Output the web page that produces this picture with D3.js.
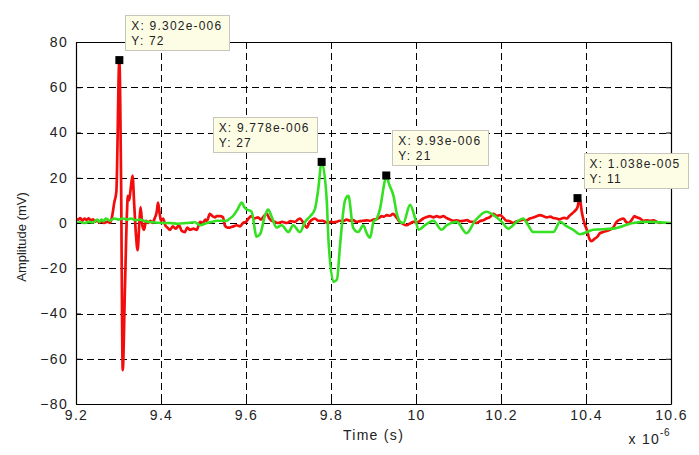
<!DOCTYPE html>
<html>
<head>
<meta charset="utf-8">
<script src="https://cdn.jsdelivr.net/npm/d3@7"></script>
<style>
  html, body { margin: 0; padding: 0; background: #fff; }
  svg { display: block; }
  .tick text { font-family: "Liberation Sans", Arial, sans-serif; font-size: 14px; letter-spacing: 1.3px; fill: #222; }
</style>
</head>
<body>
<svg id="chart" width="699" height="455"></svg>
<script>
// ---- data (time in microseconds, amplitude in mV) ----
const redT = [9.200,9.205,9.210,9.215,9.220,9.225,9.230,9.235,9.240,9.245,9.250,9.255,9.260,9.265,9.270,9.275,9.280,9.285,9.290,9.295,9.302,9.306,9.310,9.315,9.320,9.322,9.325,9.328,9.333,9.337,9.341,9.345,9.349,9.352,9.356,9.360,9.365,9.370,9.375,9.380,9.385,9.390,9.393,9.397,9.400,9.405,9.410,9.415,9.421,9.428,9.435,9.442,9.449,9.456,9.462,9.468,9.476,9.484,9.492,9.499,9.504,9.508,9.515,9.521,9.527,9.531,9.539,9.546,9.550,9.556,9.562,9.570,9.578,9.586,9.593,9.600,9.606,9.613,9.620,9.628,9.635,9.642,9.649,9.655,9.660,9.668,9.675,9.685,9.696,9.705,9.715,9.722,9.727,9.735,9.743,9.750,9.756,9.762,9.770,9.781,9.787,9.793,9.800,9.806,9.813,9.820,9.828,9.837,9.845,9.852,9.860,9.868,9.876,9.884,9.892,9.900,9.908,9.915,9.919,9.925,9.931,9.939,9.946,9.954,9.962,9.970,9.978,9.986,9.994,10.002,10.010,10.017,10.025,10.033,10.041,10.049,10.056,10.064,10.072,10.080,10.088,10.096,10.104,10.112,10.120,10.127,10.135,10.143,10.150,10.158,10.166,10.174,10.182,10.190,10.198,10.206,10.213,10.221,10.228,10.236,10.244,10.252,10.260,10.268,10.276,10.284,10.292,10.300,10.308,10.316,10.323,10.331,10.338,10.343,10.349,10.355,10.360,10.366,10.372,10.380,10.385,10.390,10.396,10.402,10.408,10.413,10.420,10.427,10.433,10.440,10.448,10.456,10.464,10.472,10.480,10.488,10.494,10.500,10.508,10.514,10.519,10.527,10.535,10.543,10.551,10.559,10.566,10.574,10.582,10.590];
const redV = [2,1.5,2.2,1,2,1.4,2.1,1,1.6,0.6,1.2,0.2,0.7,0,0.3,0.6,0,3,9,14,72,20,-65,-30,5,12,10,14,21,8,-5,-12,0,7,-1,-3,1,0,1,0,2,5,9,4,1,2,-1,-2,-3,-1.5,-2.5,-1,-3.5,-4,-2,-3,-2.5,-3,0.5,0,1.5,1,4,3,2.5,3,3,2.5,-1,-2,-2,-1.5,-1,-1.5,0,0.5,2,3,2,2.5,1.5,3,4,2,1,0.5,0,0.5,0,0.8,0.5,1.5,2,0,-2,0.5,1.5,2,1,1,0.3,0,0.6,0.3,0.5,1,0.8,1.5,1,1.3,0.5,0.8,1,1.2,1,1.5,1.8,2.5,3,2.8,3.5,3.2,4,2.5,0.5,-0.5,-1,-0.2,0.5,0.3,1,2,2.6,3,2.5,3,2.6,3,2.2,1.5,1,1.2,0.8,1,1.3,0.6,0.5,0,0.8,1.2,2,2.6,4,3.2,3.5,2.2,1,0.8,0,0.6,1,1.5,1.2,2,2.4,3,3.5,3,2.5,2.8,2.2,2,1.6,2,2.3,2,3,4,5,7,11,5,0,-3,-7,-8,-7,-6,-4.5,-4,-3.5,-3,-2,0.5,1.5,2,0.5,0,1.5,3,2.5,2,1,1.2,1,1.2,0.6,0];

const greenT = [9.200,9.210,9.220,9.230,9.240,9.250,9.255,9.260,9.265,9.270,9.280,9.290,9.300,9.310,9.320,9.330,9.340,9.350,9.360,9.370,9.380,9.400,9.420,9.440,9.460,9.480,9.492,9.508,9.520,9.531,9.545,9.555,9.562,9.569,9.580,9.590,9.596,9.602,9.613,9.625,9.633,9.645,9.652,9.660,9.672,9.684,9.700,9.711,9.727,9.739,9.751,9.762,9.770,9.778,9.790,9.794,9.806,9.814,9.821,9.833,9.841,9.852,9.864,9.876,9.884,9.892,9.900,9.908,9.915,9.927,9.930,9.937,9.947,9.955,9.963,9.970,9.986,9.998,10.006,10.021,10.041,10.060,10.072,10.096,10.119,10.139,10.166,10.186,10.202,10.217,10.237,10.252,10.264,10.276,10.323,10.339,10.355,10.370,10.386,10.417,10.464,10.511,10.543,10.600];
const greenV = [0,0.3,0,0.5,0.2,1.5,0.5,1.5,0.8,2,1,2,1.5,2,1.5,2,1.2,1.5,1,0.5,0.3,0,0,-0.3,0,0.3,-1,0,0.5,1,1,1,2,3,6,9,7,6,5,-6,-5,3.5,6,3,-2,-1,-4,-1,-4,0.5,3,6,15,27,10,-7.5,-26,-25,-10.5,10,12,-2,-4,-1,-4.5,-6.5,0.5,2,6,19,21,17,12,4,0.5,0,8,2,-3,-1,1,-3,-1,0.5,-4.5,1,5,3,0.5,-2.5,0.5,2,-1,-4,-4,0.5,-1.5,-3,-5,-3,-2.5,0,0.5,0];

const xTicks = [9.2,9.4,9.6,9.8,10,10.2,10.4,10.6];
const xTickLabels = ["9.2","9.4","9.6","9.8","10","10.2","10.4","10.6"];
const yTicks = [-80,-60,-40,-20,0,20,40,60,80];

const tipX = [9.302, 9.778, 9.93, 10.38];
const tipY = [72, 27, 21, 11];
const tipLabelX = ["X: 9.302e-006","X: 9.778e-006","X: 9.93e-006","X: 1.038e-005"];
const tipLabelY = ["Y: 72","Y: 27","Y: 21","Y: 11"];
const tipFlip = [false, true, false, false];

// ---- layout ----
const L = 76, R = 671, T = 42, B = 404;
const svg = d3.select("#chart");
const x = d3.scaleLinear().domain([9.2, 10.6]).range([L, R]);
const y = d3.scaleLinear().domain([-80, 80]).range([B, T]);

// grid
const grid = svg.append("g").attr("stroke", "#000").attr("stroke-width", 1).attr("stroke-dasharray", "7,4");
grid.selectAll("line.v").data(xTicks.slice(1, -1)).join("line")
  .attr("x1", d => Math.round(x(d)) + 0.5).attr("x2", d => Math.round(x(d)) + 0.5)
  .attr("y1", T).attr("y2", B);
grid.selectAll("line.h").data(yTicks.slice(1, -1)).join("line")
  .attr("x1", L).attr("x2", R)
  .attr("y1", d => Math.round(y(d)) + 0.5).attr("y2", d => Math.round(y(d)) + 0.5);

// clip
svg.append("clipPath").attr("id", "clip").append("rect")
  .attr("x", L).attr("y", T).attr("width", R - L).attr("height", B - T);

const line = d3.line().x(d => x(d[0])).y(d => y(d[1])).curve(d3.curveMonotoneX);
const plot = svg.append("g").attr("clip-path", "url(#clip)");
plot.append("path").datum(redT.map((t, i) => [t, redV[i]]))
  .attr("d", line).attr("fill", "none").attr("stroke", "#f20c0c")
  .attr("stroke-width", 2.7).attr("stroke-linejoin", "round");
plot.append("path").datum(greenT.map((t, i) => [t, greenV[i]]))
  .attr("d", line).attr("fill", "none").attr("stroke", "#33e022")
  .attr("stroke-width", 2.6).attr("stroke-linejoin", "round");

// axes (ticks inside, box)
const fmtX = d => xTickLabels[xTicks.indexOf(d)];
svg.append("g").attr("transform", `translate(0,${B})`)
  .call(d3.axisBottom(x).tickValues(xTicks).tickFormat(fmtX).tickSizeInner(-5).tickSizeOuter(0).tickPadding(6));
svg.append("g").attr("transform", `translate(${L},0)`)
  .call(d3.axisLeft(y).tickValues(yTicks).tickSizeInner(-5).tickSizeOuter(0).tickPadding(8));
svg.append("g").attr("transform", `translate(0,${T})`)
  .call(d3.axisTop(x).tickValues(xTicks).tickFormat("").tickSizeInner(-5).tickSizeOuter(0));
svg.append("g").attr("transform", `translate(${R},0)`)
  .call(d3.axisRight(y).tickValues(yTicks).tickFormat("").tickSizeInner(-5).tickSizeOuter(0));
svg.selectAll(".domain").attr("stroke", "#000").attr("stroke-width", 1.2);
svg.selectAll(".tick line").attr("stroke", "#000");

// axis titles
const font = '"Liberation Sans", Arial, sans-serif';
svg.append("text").attr("x", (L + R) / 2).attr("y", 440).attr("text-anchor", "middle")
  .attr("font-family", font).attr("font-size", 14).attr("letter-spacing", "1.3px").attr("fill", "#222")
  .text("Time (s)");
svg.append("text").attr("transform", `translate(26,${(T + B) / 2 + 14}) rotate(-90)`).attr("text-anchor", "middle")
  .attr("font-family", font).attr("font-size", 13).attr("fill", "#222")
  .text("Amplitude (mV)");
const ex = svg.append("text").attr("x", R - 1).attr("y", 444).attr("text-anchor", "end")
  .attr("font-family", font).attr("font-size", 14).attr("letter-spacing", "1.3px").attr("fill", "#222");
ex.append("tspan").text("x 10");
ex.append("tspan").attr("dy", -8).attr("font-size", 10).attr("letter-spacing", "0.5px").text("-6");

// datatips
tipX.forEach((tx, i) => {
  const px = x(tx), py = y(tipY[i]);
  svg.append("rect").attr("x", px - 4).attr("y", py - 4).attr("width", 8).attr("height", 8).attr("fill", "#000");
  const g = svg.append("g");
  const rect = g.append("rect").attr("fill", "#fdfde6").attr("stroke", "#c6c6bc").attr("stroke-width", 1);
  const t1 = g.append("text").attr("font-family", font).attr("font-size", 12).attr("letter-spacing", "1.2px")
    .attr("fill", "#222").text(tipLabelX[i]);
  const t2 = g.append("text").attr("font-family", font).attr("font-size", 12).attr("letter-spacing", "1.2px")
    .attr("fill", "#222").text(tipLabelY[i]);
  const w = Math.max(t1.node().getComputedTextLength(), t2.node().getComputedTextLength()) + 13;
  const h = 35;
  const bx = tipFlip[i] ? px - 5 - w : px + 6;
  const by = py - 10 - h;
  rect.attr("x", Math.round(bx) + 0.5).attr("y", Math.round(by) + 0.5).attr("width", Math.round(w)).attr("height", h);
  t1.attr("x", bx + 6).attr("y", by + 15);
  t2.attr("x", bx + 6).attr("y", by + 30);
});
</script>
</body>
</html>
